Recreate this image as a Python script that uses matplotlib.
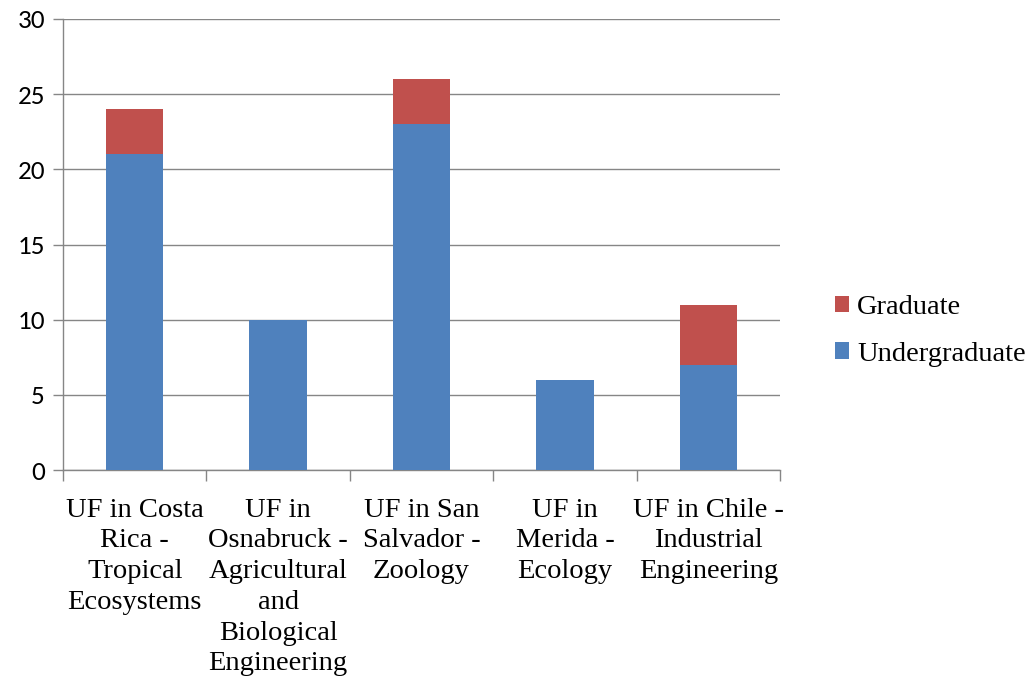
import matplotlib
matplotlib.use("Agg")
import matplotlib.pyplot as plt
import numpy as np

categories = [
    "UF in Costa\nRica -\nTropical\nEcosystems",
    "UF in\nOsnabruck -\nAgricultural\nand\nBiological\nEngineering",
    "UF in San\nSalvador -\nZoology",
    "UF in\nMerida -\nEcology",
    "UF in Chile -\nIndustrial\nEngineering",
]
undergraduate = [21, 10, 23, 6, 7]
graduate = [3, 0, 3, 0, 4]
yticks = [0, 5, 10, 15, 20, 25, 30]

blue = "#4F81BD"
red = "#C0504D"
grid_c = "#868686"
serif = ["Liberation Serif", "DejaVu Serif"]

fig = plt.figure(figsize=(10.34, 6.79), dpi=100)
ax = fig.add_axes([63/1034, 1-470/679, (780-63)/1034, (470-19)/679])

x = np.arange(len(categories))
w = 0.4
b1 = ax.bar(x, undergraduate, w, color=blue, label="Undergraduate", zorder=3)
b2 = ax.bar(x, graduate, w, bottom=undergraduate, color=red, label="Graduate", zorder=3)

ax.set_xlim(-0.5, len(categories)-0.5)
ax.set_ylim(0, 30)
ax.set_yticks(yticks)
ax.yaxis.grid(True, color=grid_c, linewidth=1.0, zorder=0)
for s in ["top", "right"]:
    ax.spines[s].set_visible(False)
for s in ["left", "bottom"]:
    ax.spines[s].set_color(grid_c)
    ax.spines[s].set_linewidth(1.0)

ax.tick_params(axis="y", length=7, color=grid_c, width=1.0, pad=6,
               labelsize=19.5, labelcolor="black")
for t in ax.get_yticklabels():
    t.set_family(["Carlito", "Liberation Sans", "DejaVu Sans"])

ax.set_xticks(x)
ax.set_xticklabels(categories, fontsize=20.5, family=serif,
                   linespacing=1.3, va="top")
ax.set_xticks(np.arange(-0.5, len(categories), 1.0), minor=True)
ax.tick_params(axis="x", which="major", length=0, pad=20)
ax.tick_params(axis="x", which="minor", length=8, color=grid_c, width=1.0)

handles = [b2, b1]
leg = fig.legend(handles, ["Graduate", "Undergraduate"], loc="center left",
                 bbox_to_anchor=(835/1034, 1-331/679), frameon=False,
                 prop={"family": serif, "size": 20.5}, borderpad=0,
                 borderaxespad=0,
                 handlelength=0.5, handleheight=0.5, handletextpad=0.28,
                 labelspacing=0.75)

fig.savefig("out.png", dpi=100)
